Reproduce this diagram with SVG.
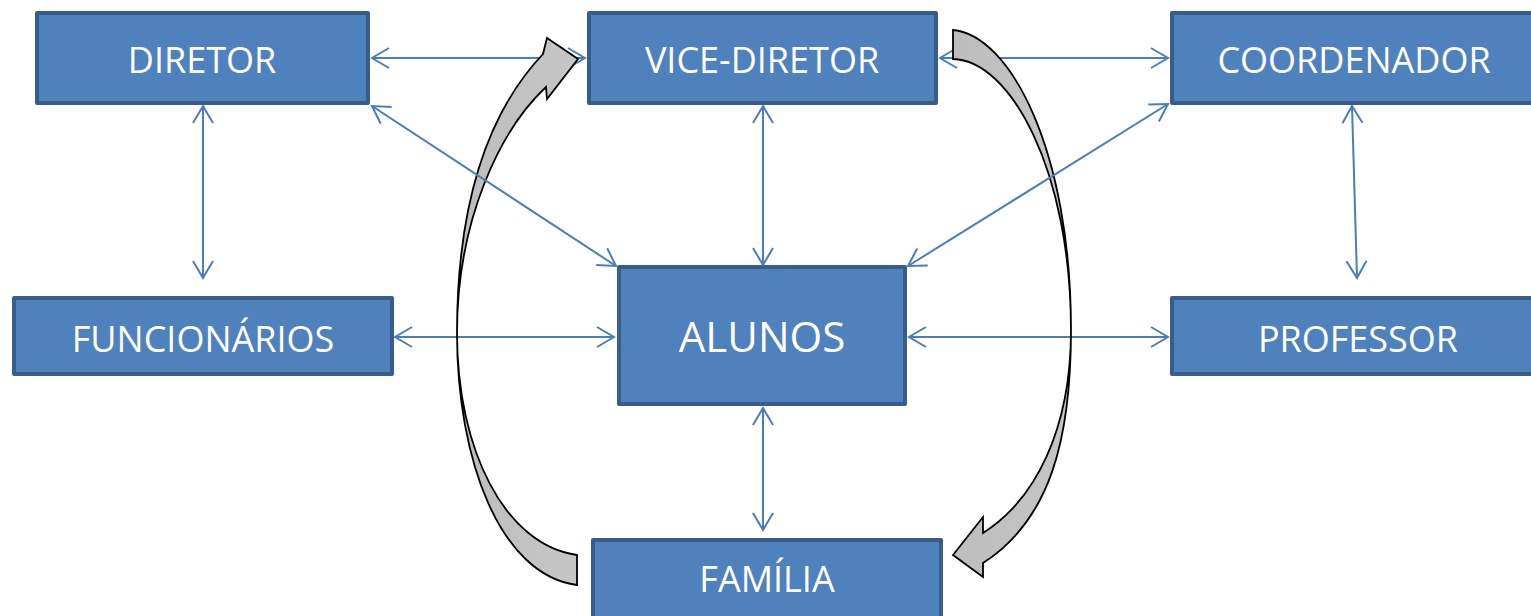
<svg xmlns="http://www.w3.org/2000/svg" width="1531" height="616" viewBox="0 0 1531 616">
<style>
.box{fill:#4F81BD;stroke:#385D8A;stroke-width:4;stroke-linejoin:round}
.lbl{font-family:"Open Sans","Liberation Sans",sans-serif;font-size:36px;fill:#FFFFFF;text-anchor:middle}
.big{font-size:42px}
.con{stroke:#4A7EBB;stroke-width:2;fill:none;marker-start:url(#ah);marker-end:url(#ah)}
.curve{stroke:#000000;stroke-width:1.8;stroke-linejoin:miter}
</style>
<defs>
<marker id="ah" markerUnits="userSpaceOnUse" markerWidth="24" markerHeight="24" viewBox="-20 -12 24 24" refX="0" refY="0" orient="auto-start-reverse">
<path d="M-17,-10 L0,0 L-17,10" fill="none" stroke="#4A7EBB" stroke-width="2"/>
</marker>
<linearGradient id="gg" x1="0" y1="0" x2="1" y2="0">
<stop offset="0" stop-color="#BDBDBD"/>
<stop offset="1" stop-color="#C6C6C6"/>
</linearGradient>
</defs>
<rect width="1531" height="616" fill="#FFFFFF"/>
<g id="connectors">
<line class="con" x1="372" y1="58" x2="585" y2="58"/>
<line class="con" x1="940" y1="58" x2="1168" y2="58"/>
<line class="con" x1="203" y1="106" x2="203" y2="278"/>
<line class="con" x1="1352" y1="106" x2="1357" y2="278"/>
<line class="con" x1="763" y1="106" x2="763" y2="265"/>
<line class="con" x1="395" y1="337" x2="614" y2="337"/>
<line class="con" x1="909" y1="337" x2="1168" y2="337"/>
<line class="con" x1="763" y1="408" x2="763" y2="530"/>
</g>
<g id="curved-arrows">
<path class="curve" fill="url(#gg)" d="M577,585 C500,575 457,460 457,333 C457,220 500,130 546,87 L547,99 L578,59 L547,38 L543,54 C490,110 457,200 457,333 C457,450 505,545 577,555 Z"/>
<path class="curve" fill="url(#gg)" d="M953,30 C1010,35 1071,150 1071,330 C1071,430 1035,500 983,533 L983,517 L953,555 L983,577 L983,563 C1050,520 1071,440 1071,330 C1071,170 1010,60 953,59 Z"/>
</g>
<g id="connectors-diagonal">
<line class="con" x1="372" y1="106" x2="616" y2="266"/>
<line class="con" x1="1168" y1="104" x2="908" y2="266"/>
</g>
<g id="diretor">
<rect class="box" x="37" y="13" width="331" height="90"/>
<text class="lbl" x="202" y="73">DIRETOR</text>
</g>
<g id="vice-diretor">
<rect class="box" x="589" y="13" width="347" height="90"/>
<text class="lbl" x="762" y="73">VICE-DIRETOR</text>
</g>
<g id="coordenador">
<rect class="box" x="1172" y="13" width="380" height="90"/>
<text class="lbl" x="1354" y="73">COORDENADOR</text>
</g>
<g id="funcionarios">
<rect class="box" x="14" y="298" width="378" height="76"/>
<text class="lbl" x="203" y="352">FUNCIONÁRIOS</text>
</g>
<g id="alunos">
<rect class="box" x="619" y="267" width="286" height="137"/>
<text class="lbl big" x="762" y="352">ALUNOS</text>
</g>
<g id="professor">
<rect class="box" x="1172" y="298" width="380" height="76"/>
<text class="lbl" x="1358" y="352">PROFESSOR</text>
</g>
<g id="familia">
<rect class="box" x="593" y="540" width="348" height="100"/>
<text class="lbl" x="767" y="592">FAMÍLIA</text>
</g>
</svg>
